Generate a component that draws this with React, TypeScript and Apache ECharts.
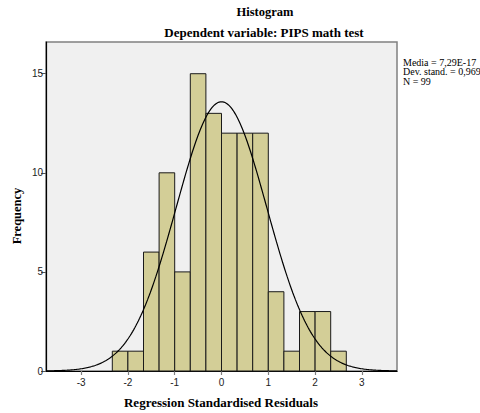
import React, { useEffect, useRef } from "react";
import * as echarts from "echarts";

// Histogram bins (regression standardised residuals), bin width 1/3
const binEdges = [-7 / 3, -2, -5 / 3, -4 / 3, -1, -2 / 3, -1 / 3, 0, 1 / 3, 2 / 3, 1, 4 / 3, 5 / 3, 2, 7 / 3, 8 / 3];
const frequencies = [1, 1, 6, 10, 5, 15, 13, 12, 12, 12, 4, 1, 3, 3, 1];

// Summary statistics shown in the legend box
const meanValue = 7.29e-17;
const sdValue = 0.969;
const nValue = 99;
const statLines = ["Media = 7,29E-17", "Dev. stand. = 0,969", "N = 99"];

const xTicks = [-3, -2, -1, 0, 1, 2, 3];
const yTicks = [0, 5, 10, 15];

const titleText = "Histogram";
const subtitleText = "Dependent variable: PIPS math test";
const xAxisTitle = "Regression Standardised Residuals";
const yAxisTitle = "Frequency";

export default function App() {
  const ref = useRef<HTMLDivElement>(null);

  useEffect(() => {
    if (!ref.current) return;
    const chart = echarts.init(ref.current, undefined, { renderer: "svg" });

    const barData = frequencies.map((f, i) => [binEdges[i], binEdges[i + 1], f]);
    const binWidth = binEdges[1] - binEdges[0];
    // fitted normal curve from the stated mean / sd / N
    const curve: number[][] = [];
    for (let k = 0; k <= 300; k++) {
      const x = -3.75 + (7.5 * k) / 300;
      const z = (x - meanValue) / sdValue;
      const y = (nValue * binWidth * Math.exp(-0.5 * z * z)) / (sdValue * Math.sqrt(2 * Math.PI));
      curve.push([x, y]);
    }

    const serif = "'Liberation Serif', 'Times New Roman', serif";
    const sans = "'Liberation Sans', Arial, sans-serif";

    chart.setOption({
      animation: false,
      backgroundColor: "#ffffff",
      grid: {
        left: 46,
        right: 83,
        top: 42,
        bottom: 42,
        show: true,
        backgroundColor: "#f0f0f0",
        borderColor: "#808080",
        borderWidth: 1.5,
      },
      xAxis: {
        type: "value",
        min: -3.75,
        max: 3.75,
        splitLine: { show: false },
        axisLine: { show: true, onZero: false, lineStyle: { color: "#000", width: 1.2 } },
        axisTick: { show: true, customValues: xTicks, length: 4, lineStyle: { color: "#808080", width: 1.2 } },
        axisLabel: { customValues: xTicks, color: "#222", fontFamily: sans, fontSize: 10, margin: 6 },
      },
      yAxis: {
        type: "value",
        min: 0,
        max: 16.6,
        splitLine: { show: false },
        axisLine: { show: true, onZero: false, lineStyle: { color: "#000", width: 1.2 } },
        axisTick: { show: true, customValues: yTicks, length: 5, lineStyle: { color: "#555", width: 1 } },
        axisLabel: { customValues: yTicks, color: "#222", fontFamily: sans, fontSize: 10, margin: 3 },
      },
      series: [
        {
          type: "custom",
          data: barData,
          encode: { x: [0, 1], y: 2 },
          renderItem: (params: any, api: any) => {
            const p0 = api.coord([api.value(0), api.value(2)]);
            const p1 = api.coord([api.value(1), 0]);
            return {
              type: "rect",
              shape: { x: p0[0], y: p0[1], width: p1[0] - p0[0], height: p1[1] - p0[1] },
              style: { fill: "#d3ce97", stroke: "#1a1a1a", lineWidth: 1 },
            };
          },
          z: 2,
        },
        {
          type: "line",
          data: curve,
          showSymbol: false,
          smooth: false,
          lineStyle: { color: "#000", width: 1.2 },
          z: 3,
        },
      ],
      graphic: [
        {
          type: "text",
          x: 265,
          y: 12,
          style: { text: titleText, font: `bold 12.5px ${serif}`, fill: "#000", textAlign: "center", textVerticalAlign: "middle" },
        },
        {
          type: "text",
          x: 264,
          y: 32,
          style: { text: subtitleText, font: `bold 13px ${serif}`, fill: "#000", textAlign: "center", textVerticalAlign: "middle" },
        },
        {
          type: "text",
          x: 221,
          y: 402,
          style: { text: xAxisTitle, font: `bold 13px ${serif}`, fill: "#000", textAlign: "center", textVerticalAlign: "middle" },
        },
        {
          type: "text",
          x: 17,
          y: 216,
          rotation: Math.PI / 2,
          style: { text: yAxisTitle, font: `bold 12.5px ${serif}`, fill: "#000", textAlign: "center", textVerticalAlign: "middle" },
        },
        ...statLines.map((t, i) => ({
          type: "text",
          x: 403,
          y: 62 + i * 9.5,
          style: { text: t, font: `10px ${serif}`, fill: "#000", textAlign: "left", textVerticalAlign: "middle" },
        })),
      ],
    });

    return () => chart.dispose();
  }, []);

  return <div ref={ref} style={{ position: "fixed", left: 0, top: 0, width: 480, height: 413 }} />;
}
